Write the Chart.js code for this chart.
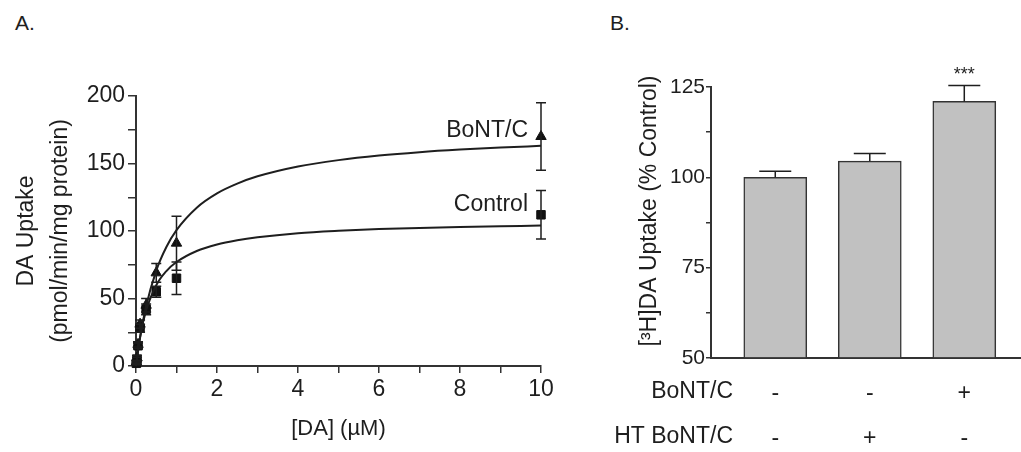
<!DOCTYPE html>
<html>
<head>
<meta charset="utf-8">
<script src="https://cdn.jsdelivr.net/npm/chart.js@4.4.0/dist/chart.umd.min.js"></script>
<style>
  body { margin: 0; background: #fff; width: 1021px; height: 452px; position: relative; overflow: hidden;
         font-family: "Liberation Sans", Arial, sans-serif; color: #1e1e1e; }
  .panel { position: absolute; top: 0; height: 452px; }
  #wrapA { left: 0; width: 600px; }
  #wrapB { left: 600px; width: 421px; }
  .tag { position: absolute; top: 12px; font-size: 21px; line-height: 1; }
</style>
</head>
<body>
<div class="tag" style="left:15px">A.</div>
<div class="tag" style="left:610px">B.</div>
<div class="panel" id="wrapA"><canvas id="kineticsChart"></canvas></div>
<div class="panel" id="wrapB"><canvas id="uptakeChart"></canvas></div>
<script>
// panel A - saturation kinetics
const doseUM = [0.01, 0.025, 0.05, 0.1, 0.25, 0.5, 1, 10];
const controlUptake = [2, 5, 15, 28, 42, 55, 65, 112];
const controlSem = [1, 1.5, 2, 3, 4, 4, 12, 18];
const bontUptake = [3, 6, 16, 31, 45, 69, 91, 170];
const bontSem = [1, 2, 2, 3, 5, 7, 20, 25];

// fitted curves
const fitDose = [0, 0.1, 0.25, 0.5, 0.75, 1, 1.5, 2, 2.5, 3, 4, 5, 6, 7, 8, 9, 10];
const controlFit = [0, 21.4, 41.3, 59.8, 70.3, 77.0, 85.2, 90.0, 93.1, 95.3, 98.3, 100.1, 101.4, 102.3, 103.0, 103.5, 104.0];
const bontFit = [0, 20.9, 44.3, 70.7, 88.2, 100.7, 117.3, 127.9, 135.1, 140.5, 147.8, 152.5, 155.9, 158.4, 160.3, 161.8, 163.1];

const xLabelTicksA = [0, 2, 4, 6, 8, 10];
const yLabelTicksA = [0, 50, 100, 150, 200];

// panel B - uptake relative to control
const bontRow = ['-', '-', '+'];
const htBontRow = ['-', '+', '-'];
const uptakePct = [100, 104.5, 121];
const uptakePctSem = [1.7, 2.1, 4.4];
const sigMarks = ['', '', '***'];
const yLabelTicksB = [50, 75, 100, 125];

const FONT = '"Liberation Sans", Arial, sans-serif';
const INK = '#1e1e1e';
Chart.defaults.font.family = FONT;
Chart.defaults.color = INK;

const toXY = (xs, ys) => xs.map((x, i) => ({ x: x, y: ys[i] }));

const errorBars = {
  id: 'errorBars',
  afterDatasetsDraw(chart) {
    const ctx = chart.ctx;
    const yScale = chart.scales.y;
    ctx.save();
    ctx.strokeStyle = INK;
    ctx.lineWidth = 1.5;
    chart.data.datasets.forEach((ds, i) => {
      if (!ds.errorBars) return;
      const meta = chart.getDatasetMeta(i);
      meta.data.forEach((el, j) => {
        const v = ds.data[j].y;
        const e = ds.errorBars[j];
        const top = yScale.getPixelForValue(v + e);
        const bot = ds.upperOnly ? yScale.getPixelForValue(v) : yScale.getPixelForValue(v - e);
        const half = ds.capHalf;
        ctx.beginPath();
        ctx.moveTo(el.x, top); ctx.lineTo(el.x, bot);
        ctx.moveTo(el.x - half, top); ctx.lineTo(el.x + half, top);
        if (!ds.upperOnly) { ctx.moveTo(el.x - half, bot); ctx.lineTo(el.x + half, bot); }
        ctx.stroke();
      });
    });
    ctx.restore();
  }
};

// names next to the last point of each series
const seriesNames = {
  id: 'seriesNames',
  afterDatasetsDraw(chart) {
    const ctx = chart.ctx;
    ctx.save();
    ctx.font = '23px ' + FONT;
    ctx.fillStyle = INK;
    ctx.textAlign = 'right';
    ctx.textBaseline = 'middle';
    chart.data.datasets.forEach((ds, i) => {
      if (!ds.seriesName) return;
      const pts = chart.getDatasetMeta(i).data;
      const last = pts[pts.length - 1];
      ctx.fillText(ds.seriesName, last.x - 13, last.y - ds.nameLift);
    });
    ctx.restore();
  }
};

new Chart(document.getElementById('kineticsChart'), {
  type: 'scatter',
  data: {
    datasets: [{
      label: 'Control fit',
      data: toXY(fitDose, controlFit),
      showLine: true, pointRadius: 0, borderColor: INK, borderWidth: 2,
      cubicInterpolationMode: 'monotone'
    }, {
      label: 'BoNT/C fit',
      data: toXY(fitDose, bontFit),
      showLine: true, pointRadius: 0, borderColor: INK, borderWidth: 2,
      cubicInterpolationMode: 'monotone'
    }, {
      label: 'Control',
      data: toXY(doseUM, controlUptake),
      errorBars: controlSem, capHalf: 5,
      seriesName: 'Control', nameLift: 10,
      pointStyle: 'rect', pointRadius: 6, backgroundColor: '#111', borderColor: '#111'
    }, {
      label: 'BoNT/C',
      data: toXY(doseUM, bontUptake),
      errorBars: bontSem, capHalf: 5,
      seriesName: 'BoNT/C', nameLift: 6,
      pointStyle: 'triangle', pointRadius: 6, backgroundColor: '#111', borderColor: '#111'
    }]
  },
  options: {
    responsive: true,
    maintainAspectRatio: false,
    animation: false,
    clip: false,
    layout: { padding: { top: 96, right: 59, bottom: 0, left: 0 } },
    plugins: { legend: { display: false }, tooltip: { enabled: false } },
    scales: {
      x: {
        type: 'linear', min: 0, max: 10,
        afterFit: s => { s.height = 86; },
        ticks: { stepSize: 1, padding: 3, font: { size: 23 }, color: INK,
                 callback: v => xLabelTicksA.includes(v) ? v : '' },
        grid: { drawOnChartArea: false, tickLength: 7, color: '#333', lineWidth: 1.5 },
        border: { color: '#333', width: 2 },
        title: { display: true, text: '[DA] (\u00b5M)', font: { size: 22 }, color: INK, padding: { top: 0, bottom: 10 } }
      },
      y: {
        min: 0, max: 200,
        afterFit: s => { s.width = 136; },
        ticks: { stepSize: 25, padding: 3, font: { size: 23 }, color: INK,
                 callback: v => yLabelTicksA.includes(v) ? v : '' },
        grid: { drawOnChartArea: false, tickLength: 8, color: '#333', lineWidth: 1.5 },
        border: { color: '#333', width: 2 },
        title: { display: true, text: ['DA Uptake', '(pmol/min/mg protein)'],
                 font: { size: 23, lineHeight: 1.5 }, color: INK, padding: { top: 9 } }
      }
    }
  },
  plugins: [errorBars, seriesNames]
});

// row labels, y title and significance stars for panel B
const barExtras = {
  id: 'barExtras',
  afterDraw(chart) {
    const ctx = chart.ctx;
    const x = chart.scales.x, y = chart.scales.y;
    ctx.save();
    ctx.fillStyle = INK;
    ctx.font = '23px ' + FONT;
    ctx.textAlign = 'right';
    ctx.textBaseline = 'middle';
    ctx.fillText('BoNT/C', 133, 392);
    ctx.fillText('HT BoNT/C', 133, 437);

    ctx.save();
    ctx.translate(50, 211);
    ctx.rotate(-Math.PI / 2);
    ctx.textAlign = 'center';
    ctx.fillText('[\u00b3H]DA Uptake (% Control)', 0, 0);
    ctx.restore();

    ctx.font = '18px ' + FONT;
    ctx.textAlign = 'center';
    ctx.textBaseline = 'bottom';
    sigMarks.forEach((m, i) => {
      if (!m) return;
      ctx.fillText(m, x.getPixelForValue(i + 1), y.getPixelForValue(uptakePct[i] + uptakePctSem[i]) - 2);
    });
    ctx.restore();
  }
};

new Chart(document.getElementById('uptakeChart'), {
  type: 'bar',
  data: {
    datasets: [{
      label: '% Control',
      data: uptakePct.map((v, i) => ({ x: i + 1, y: v })),
      errorBars: uptakePctSem, upperOnly: true, capHalf: 16,
      base: 50,
      backgroundColor: '#c1c1c1', borderColor: '#333', borderWidth: 1.5,
      barThickness: 63
    }]
  },
  options: {
    responsive: true,
    maintainAspectRatio: false,
    animation: false,
    clip: false,
    layout: { padding: { top: 87, right: 0, bottom: 0, left: 0 } },
    plugins: { legend: { display: false }, tooltip: { enabled: false } },
    scales: {
      x: {
        type: 'linear', min: 0.32, max: 3.6, offset: false,
        afterFit: s => { s.height = 94; },
        afterBuildTicks: s => { s.ticks = bontRow.map((_, i) => ({ value: i + 1 })); },
        ticks: { padding: 5, font: { size: 23, lineHeight: 1.96 }, color: INK,
                 callback: v => [bontRow[v - 1], htBontRow[v - 1]] },
        grid: { display: false },
        border: { color: '#333', width: 2 }
      },
      y: {
        min: 50, max: 125,
        afterFit: s => { s.width = 111; },
        ticks: { stepSize: 12.5, padding: 1, font: { size: 21 }, color: INK,
                 callback: v => yLabelTicksB.includes(v) ? v : '' },
        grid: { drawOnChartArea: false, tickLength: 5, color: '#333', lineWidth: 1.5 },
        border: { color: '#333', width: 2 }
      }
    }
  },
  plugins: [errorBars, barExtras]
});
</script>
</body>
</html>
